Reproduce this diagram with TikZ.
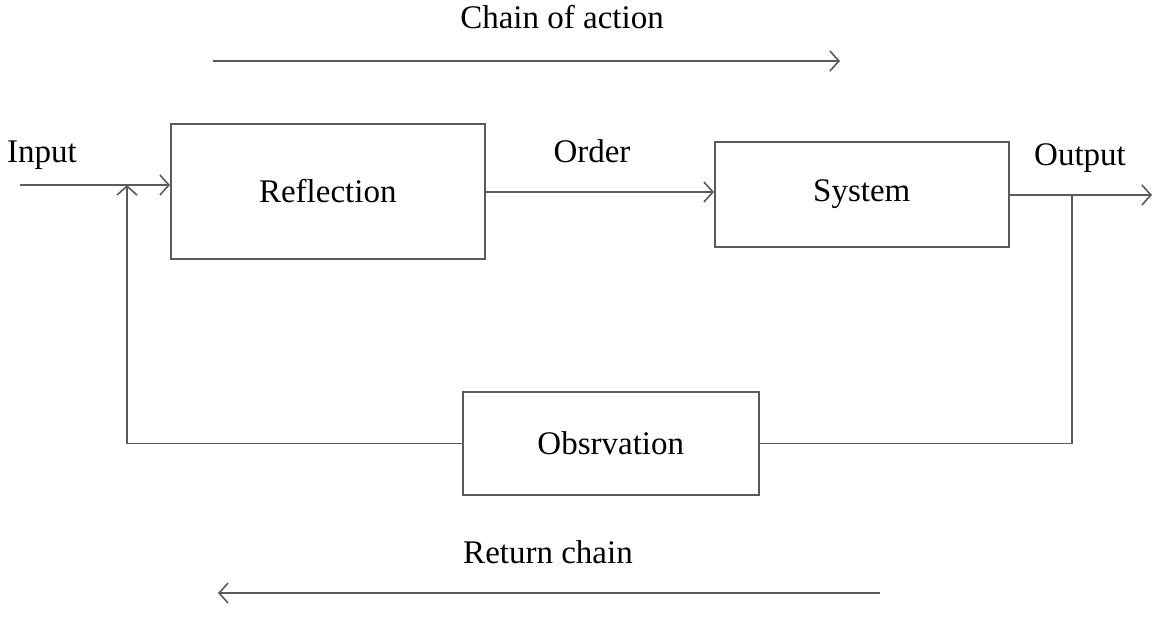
\documentclass[tikz,border=0pt]{standalone}
\usepackage{fontspec}
\setmainfont{Liberation Serif}
\usetikzlibrary{arrows.meta}
\definecolor{linegray}{HTML}{5A5A5A}
\begin{document}
\begin{tikzpicture}[x=1pt,y=-1pt,
  every node/.style={font=\fontsize{33}{38}\selectfont, text=black},
  blockbox/.style={draw=linegray, line width=1.6pt, inner sep=0pt, anchor=north west},
  conn/.style={draw=linegray, line width=1.6pt},
  arr/.style={conn, -{Straight Barb[length=9pt,width=20pt,line width=1.6pt]}},
  lbl/.style={inner sep=0pt}]
\useasboundingbox (0,0) rectangle (1154,630);
% labels
\node[lbl] (chain) at (562,17) {Chain of action};
\node[lbl] (ret) at (548,552) {Return chain};
\node[lbl] (inp) at (42,155) {Input};
\node[lbl] (ord) at (592,151) {Order};
\node[lbl] (outp) at (1080,158) {Output};
% boxes
\node[blockbox, minimum width=314pt, minimum height=135pt] (refl) at (170,123) {};
\node at (refl.center) {Reflection};
\node[blockbox, minimum width=294pt, minimum height=105pt] (sys) at (714,141) {};
\node at (sys.center) {System};
\node[blockbox, minimum width=296pt, minimum height=103pt] (obs) at (462,391) {};
\node at (obs.center) {Obsrvation};
% coordinates
\coordinate (ca1) at (213,61);
\coordinate (ca2) at (840,61);
\coordinate (rc1) at (880,593);
\coordinate (rc2) at (218,593);
\coordinate (in0) at (20,185);
\coordinate (junc) at (127,185);
\coordinate (out1) at (1152,195);
\coordinate (tap) at (1072,195);
% arrows
\draw[arr] (ca1) -- (ca2);
\draw[arr] (rc1) -- (rc2);
\draw[arr] (in0) -- (in0 -| refl.west);
\draw[arr] (refl.east |- 0,192) -- (sys.west |- 0,192);
\draw[arr] (sys.east |- out1) -- (out1);
\draw[conn] (tap) -- (tap |- obs.east) -- (obs.east);
\draw[arr] (obs.west) -- (obs.west -| junc) -- (junc);
\end{tikzpicture}
\end{document}
